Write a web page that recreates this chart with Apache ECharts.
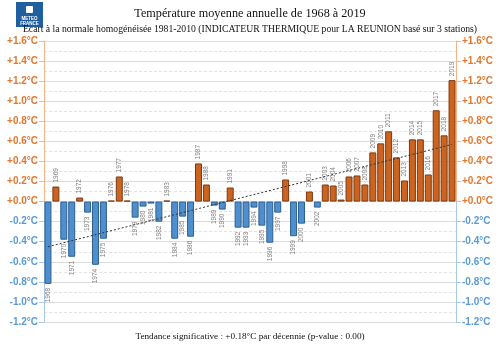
<!DOCTYPE html>
<html>
<head>
<meta charset="utf-8">
<script src="https://cdn.jsdelivr.net/npm/echarts@6/dist/echarts.min.js"></script>
<style>
  html, body { margin: 0; padding: 0; background: #fff; }
  #chart { width: 500px; height: 350px; }
</style>
</head>
<body>
<div id="chart"></div>
<script>
// years on the x axis
const years = ['1968','1969','1970','1971','1972','1973','1974','1975','1976','1977',
  '1978','1979','1980','1981','1982','1983','1984','1985','1986','1987',
  '1988','1989','1990','1991','1992','1993','1994','1995','1996','1997',
  '1998','1999','2000','2001','2002','2003','2004','2005','2006','2007',
  '2008','2009','2010','2011','2012','2013','2014','2015','2016','2017',
  '2018','2019']
// anomaly vs 1981-2010 normal (°C)
const anomalies = [-0.82, 0.15, -0.38, -0.55, 0.04, -0.11, -0.63, -0.37, 0.01, 0.25,
  0.01, -0.16, -0.05, -0.02, -0.20, 0.01, -0.37, -0.15, -0.35, 0.38,
  0.17, -0.04, -0.08, 0.14, -0.26, -0.26, -0.06, -0.24, -0.41, -0.11,
  0.22, -0.345, -0.22, 0.10, -0.06, 0.17, 0.16, 0.02, 0.25, 0.26,
  0.17, 0.49, 0.58, 0.70, 0.44, 0.21, 0.62, 0.62, 0.27, 0.91,
  0.66, 1.21]
// linear trend, start and end values
const trendYears = ['1968', '2019']
const trendValues = [-0.45, 0.57]

const ORANGE = '#cc6420'
const BLUE = '#4f8fcf'
const ORANGE_TXT = '#e07830'
const BLUE_TXT = '#5b9bd5'

// axis line colour: orange above 0, blue below (0 sits at 1.6/2.8)
const split = 1.6 / 2.8
const axisGrad = {
  type: 'linear', x: 0, y: 41, x2: 0, y2: 322, global: true,
  colorStops: [
    {offset: 0, color: '#f2b488'}, {offset: split, color: '#f2b488'},
    {offset: split, color: '#a9c9ea'}, {offset: 1, color: '#a9c9ea'}
  ]
}

function fmt(v) {
  const s = Math.abs(v) < 1e-9 ? '+0.0' : (v > 0 ? '+' : '-') + Math.abs(v).toFixed(1)
  return (v >= -1e-9 ? '{p|' : '{n|') + s + '°C}'
}

const yAxisBase = {
  type: 'value', min: -1.2, max: 1.6, interval: 0.2,
  axisLine: {show: true, lineStyle: {color: axisGrad, width: 1}},
  axisTick: {show: true, length: 5, lineStyle: {color: axisGrad}},
  axisLabel: {
    formatter: fmt, margin: 6,
    rich: {
      p: {color: ORANGE_TXT, fontWeight: 'bold', fontSize: 10, fontFamily: 'Liberation Sans'},
      n: {color: BLUE_TXT, fontWeight: 'bold', fontSize: 10, fontFamily: 'Liberation Sans'}
    }
  }
}

const barData = anomalies.map(v => {
  const pos = v >= 0
  return {
    value: v,
    itemStyle: {color: pos ? ORANGE : BLUE, borderColor: pos ? '#7a3a12' : '#2d5f8f', borderWidth: 1},
    label: pos
      ? {position: 'top', rotate: 90, align: 'left', verticalAlign: 'middle', distance: 4}
      : {position: 'bottom', rotate: 90, align: 'right', verticalAlign: 'middle', distance: 4}
  }
})

const chart = echarts.init(document.getElementById('chart'))
chart.setOption({
  animation: false,
  title: [
    {text: 'Température moyenne annuelle de 1968 à 2019', left: 'center', top: 3,
      textStyle: {fontFamily: 'Liberation Serif', fontWeight: 'normal', fontSize: 12.2, color: '#111'}},
    {text: 'Ecart à la normale homogénéisée 1981-2010 (INDICATEUR THERMIQUE pour LA REUNION basé sur 3 stations)',
      left: 'center', top: 19,
      textStyle: {fontFamily: 'Liberation Serif', fontWeight: 'normal', fontSize: 9.7, color: '#111'}},
    {text: 'Tendance significative : +0.18°C par décennie (p-value : 0.00)', left: 'center', top: 327,
      textStyle: {fontFamily: 'Liberation Serif', fontWeight: 'normal', fontSize: 9.2, color: '#111'}}
  ],
  graphic: [
    {type: 'group', left: 16, top: 2, children: [
      {type: 'rect', shape: {x: 0, y: 0, width: 27, height: 25}, style: {fill: '#1f5f9f'}},
      {type: 'rect', shape: {x: 10, y: 4, width: 7, height: 7, r: 1}, style: {fill: '#fff'}},
      {type: 'text', style: {x: 13.5, y: 14, text: 'METEO', fill: '#fff', fontSize: 4.5, fontWeight: 'bold',
        fontFamily: 'Liberation Sans', align: 'center'}},
      {type: 'text', style: {x: 13.5, y: 19, text: 'FRANCE', fill: '#fff', fontSize: 4.5, fontWeight: 'bold',
        fontFamily: 'Liberation Sans', align: 'center'}}
    ]}
  ],
  grid: {left: 44, right: 44, top: 41, bottom: 28, containLabel: false},
  xAxis: {
    type: 'category', data: years,
    axisLine: {show: false}, axisTick: {show: false}, axisLabel: {show: false}
  },
  yAxis: [
    Object.assign({}, yAxisBase, {
      position: 'left',
      splitLine: {show: true, lineStyle: {color: '#dcdcdc', width: 1}},
      minorTick: {show: false, splitNumber: 2},
      minorSplitLine: {show: true, lineStyle: {color: '#e4e4e4', type: [3, 2], width: 1}}
    }),
    Object.assign({}, yAxisBase, {position: 'right', splitLine: {show: false}})
  ],
  series: [{
    type: 'bar',
    data: barData,
    barCategoryGap: '12%',
    label: {show: true, formatter: p => years[p.dataIndex], fontSize: 6.5, color: '#808080',
      fontFamily: 'Liberation Sans'},
    markLine: {
      silent: true, symbol: 'none', label: {show: false},
      lineStyle: {color: '#333', type: [2, 2], width: 1},
      data: [[{coord: [trendYears[0], trendValues[0]]}, {coord: [trendYears[1], trendValues[1]]}]]
    }
  }]
})
</script>
</body>
</html>
